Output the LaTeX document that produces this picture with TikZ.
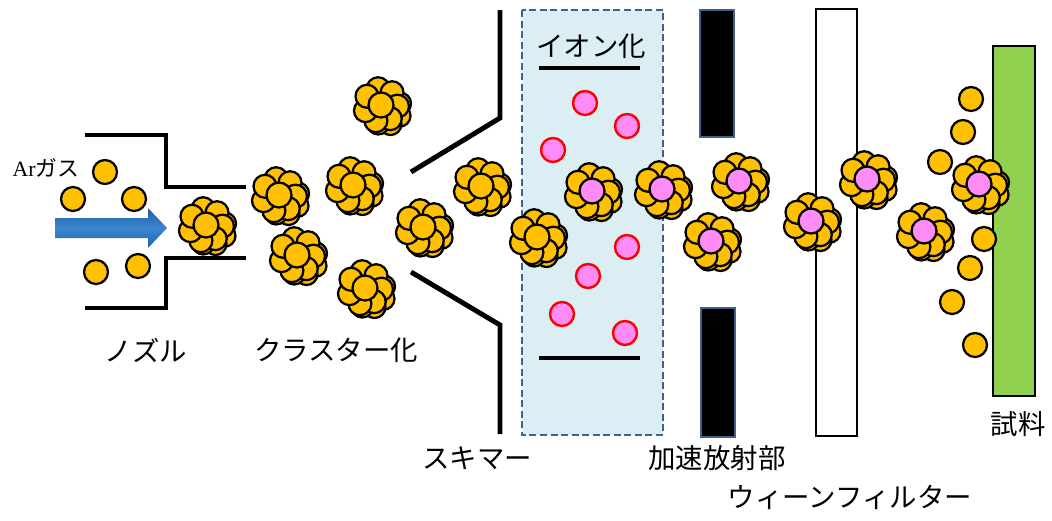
\documentclass[tikz,border=0pt]{standalone}
\usepackage{fontspec}
\setmainfont{Liberation Serif}
\newfontfamily\jp{Noto Sans CJK JP}

\definecolor{atomc}{HTML}{FFC000}
\definecolor{ionc}{HTML}{FF8CF5}
\definecolor{boxfill}{HTML}{DAEEF3}
\definecolor{boxedge}{HTML}{41618C}
\definecolor{samplec}{HTML}{92D050}
\definecolor{arrowdark}{HTML}{1F5FA8}
\definecolor{arrowlight}{HTML}{3C86D0}

\tikzset{
  pics/cluster/.style={code={
      % back layer, then front ring, then the core
      \foreach \a in {-20,25,70,115}
        \draw[atom,shift={(3,3)}] (\a:16) circle (11);
      \begin{scope}[shift={(-1,-1)}]
        \foreach \a in {-100,-48,4,56,108,160,212}
          \draw[atom] (\a:16.5) circle (11.5);
        \draw[atom,fill=#1] (0,0) circle (12.5);
      \end{scope}
    }},
  pics/cluster/.default=atomc
}

\begin{document}
\begin{tikzpicture}[x=0.025cm,y=-0.025cm,
    atom/.style={draw=black,line width=1.6pt,fill=atomc},
    ion/.style={draw=red,line width=1.7pt,fill=ionc},
    wall/.style={line width=3.5pt,line join=miter},
    lbl/.style={font=\jp\fontsize{19.5}{22}\selectfont,inner sep=0pt}
  ]
  \useasboundingbox (0,0) rectangle (1052,520);

  % ionisation region
  \draw[boxedge,fill=boxfill,dashed,line width=1.6pt,dash pattern=on 5pt off 2.5pt]
    (522,10) rectangle (663,435);
  \draw[line width=2.8pt] (539,68) -- (640,68) (539,358) -- (640,358);

  % nozzle
  \draw[wall] (85,135) -- (166,135) -- (166,187) -- (246,187);
  \draw[wall] (85,308) -- (166,308) -- (166,258) -- (246,258);

  % skimmer
  \draw[wall] (500,10) -- (500,118) -- (411,172);
  \draw[wall] (411,272) -- (500,325) -- (500,434);

  % acceleration electrodes
  \draw[boxedge,fill=black,line width=2pt] (700,10) rectangle (734,137);
  \draw[boxedge,fill=black,line width=2pt] (701,308) rectangle (735,437);

  % Wien filter
  \draw[fill=white,line width=2pt] (816,9) rectangle (857,436);

  % sample
  \draw[fill=samplec,line width=2pt] (993,46) rectangle (1035,396);

  % gas flow
  \shade[top color=arrowdark,bottom color=arrowdark,middle color=arrowlight]
    (55,218) -- (148,218) -- (148,208) -- (167,228) -- (148,248) -- (148,238)
    -- (55,238) -- cycle;

  % Ar atoms
  \foreach \p in {(105,172),(73,199),(134,199),(96,272),(138,266),
                  (971,99),(963,132),(940,162),(984,239),(970,268),
                  (952,302),(975,345)}
    \draw[atom] \p circle (12);

  % ions
  \foreach \p in {(585,103),(627,126),(553,150),(627,247),(588,276),
                  (562,314),(625,333)}
    \draw[ion] \p circle (12);

  % neutral clusters
  \foreach \p in {(207,226),(280,196),(298,256),(354,186),(382,106),
                  (366,289),(424,228),(482,187),(538,238)}
    \pic at \p {cluster};

  % charged clusters
  \foreach \p in {(593,192),(663,190),(740,182),(712,242),(812,222),
                  (868,180),(925,232),(980,185)}
    \pic at \p {cluster=ionc};

  % labels
  \node[inner sep=0pt,font=\fontsize{15.5}{18}\selectfont] (gas) at (46,168)
    {Ar{\jp ガス}};
  \node[lbl] (nozzle) at (146,350) {ノズル};
  \node[lbl] (clus) at (336,350) {クラスター化};
  \node[lbl] (ionize) at (591,46) {イオン化};
  \node[lbl] (skim) at (477,458) {スキマー};
  \node[lbl] (accel) at (717,458) {加速放射部};
  \node[lbl] (wien) at (850,497) {ウィーンフィルター};
  \node[lbl] (sample) at (1018,424) {試料};
\end{tikzpicture}
\end{document}
